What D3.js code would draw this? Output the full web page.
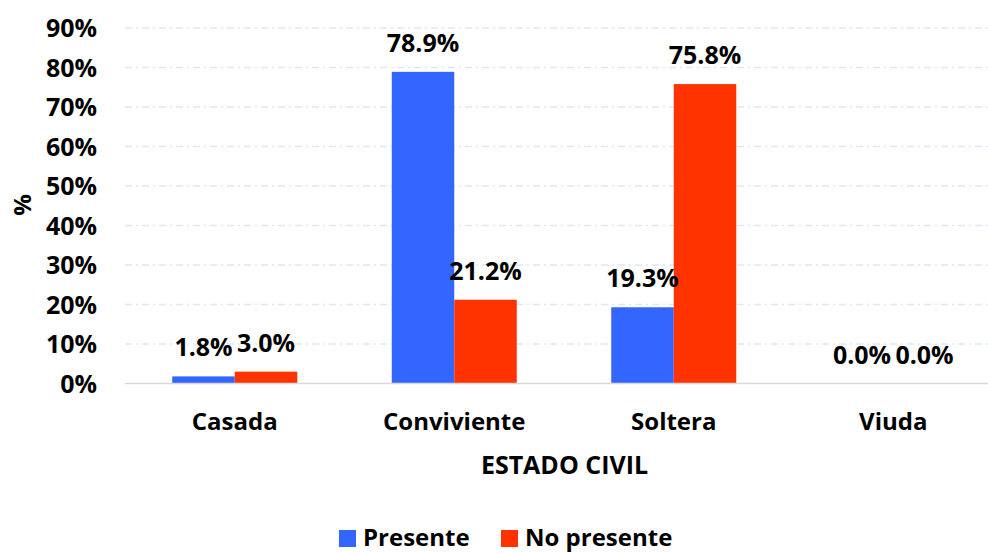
<!DOCTYPE html>
<html><head><meta charset="utf-8">
<script src="https://cdn.jsdelivr.net/npm/d3@7"></script>
<style>
html,body{margin:0;padding:0;background:#fff;}
text{font-family:"Open Sans",sans-serif;font-weight:700;fill:#000;}
</style></head>
<body><svg id="c" width="988" height="553"></svg>
<script>
const categories = ["Casada","Conviviente","Soltera","Viuda"];
const seriesNames = ["Presente","No presente"];
const presente = [1.8, 78.9, 19.3, 0.0];
const noPresente = [3.0, 21.2, 75.8, 0.0];
const yTicks = [0,10,20,30,40,50,60,70,80,90];
const colors = ["#3366FF","#FF3300"];

const svg = d3.select("#c");
const x0 = d3.scaleBand().domain(categories).range([125,1003]).padding(0);
const x1 = d3.scaleBand().domain(seriesNames)
  .range([x0.bandwidth()/2 - 62.5, x0.bandwidth()/2 + 62.5]).padding(0);
const y = d3.scaleLinear().domain([0,90]).range([383.5,28]);

// gridlines
svg.append("g").selectAll("line").data(yTicks.filter(d=>d>0)).join("line")
  .attr("x1",125).attr("x2",1003)
  .attr("y1",d=>y(d)).attr("y2",d=>y(d))
  .attr("stroke","#dce8f6").attr("stroke-width",1.3)
  .attr("stroke-dasharray","7,4,2,4");

// y axis labels
const yAxis = d3.axisLeft(y).tickValues(yTicks).tickFormat(d=>d+"%").tickSize(0).tickPadding(0);
const gy = svg.append("g").attr("transform","translate(97,0)").call(yAxis);
gy.select(".domain").remove();
gy.selectAll("text").attr("font-size",25).attr("font-family","Open Sans").attr("font-weight",700)
  .attr("fill","#000").attr("dy","0.35em");

const data = categories.map((c,i)=>({cat:c, vals:[presente[i], noPresente[i]]}));
const groups = svg.append("g").selectAll("g").data(data).join("g")
  .attr("transform",d=>`translate(${x0(d.cat)},0)`);
groups.selectAll("rect").data(d=>d.vals.map((v,j)=>({s:seriesNames[j],v,j}))).join("rect")
  .attr("x",d=>x1(d.s)).attr("width",x1.bandwidth())
  .attr("y",d=>y(d.v)).attr("height",d=>y(0)-y(d.v))
  .attr("fill",d=>colors[d.j]);
groups.selectAll("text").data(d=>d.vals.map((v,j)=>({s:seriesNames[j],v,j}))).join("text")
  .attr("x",d=>x1(d.s)+x1.bandwidth()/2).attr("y",d=>y(d.v)-20)
  .attr("text-anchor","middle").attr("font-size",25)
  .text(d=>d.v.toFixed(1)+"%");

// x axis baseline
svg.append("line").attr("x1",125).attr("x2",1003).attr("y1",y(0)).attr("y2",y(0))
  .attr("stroke","#d9d9d9").attr("stroke-width",1.5);

// x axis category labels
const xAxis = d3.axisBottom(x0).tickSize(0).tickPadding(0);
const gx = svg.append("g").attr("transform","translate(0,430)").call(xAxis);
gx.select(".domain").remove();
gx.selectAll("text").attr("font-size",24).attr("font-family","Open Sans").attr("font-weight",700)
  .attr("fill","#000").attr("dy",0).attr("y",0);

// axis titles
svg.append("text").attr("x",564.5).attr("y",473.5).attr("text-anchor","middle")
  .attr("font-size",25).text("ESTADO CIVIL");
svg.append("text").attr("transform","translate(31,205) rotate(-90)").attr("text-anchor","middle")
  .attr("font-size",24).text("%");

// legend
const legX = [339, 501];
const leg = svg.append("g").selectAll("g").data(seriesNames).join("g")
  .attr("transform",(d,i)=>`translate(${legX[i]},0)`);
leg.append("rect").attr("x",0).attr("y",530).attr("width",17).attr("height",17)
  .attr("fill",(d,i)=>colors[i]);
leg.append("text").attr("x",24).attr("y",546).attr("font-size",24).text(d=>d);
</script></body></html>
